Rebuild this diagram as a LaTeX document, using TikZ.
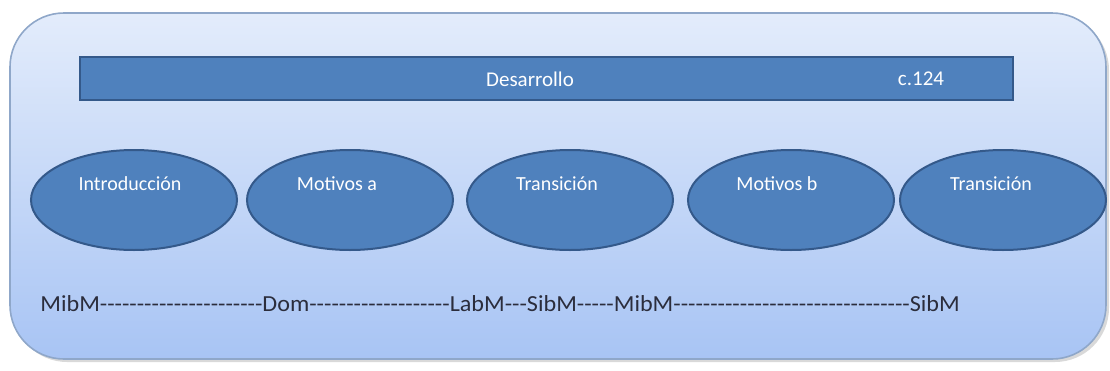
\documentclass[tikz,border=0pt]{standalone}
\usepackage{fontspec}
\setmainfont{Carlito}[Ligatures=TeXOff]
\newfontfamily\keyfont{Carlito}[Ligatures=TeXOff,FakeStretch=1.05]
\definecolor{paneltop}{HTML}{E3ECFB}
\definecolor{panelbot}{HTML}{A8C4F4}
\definecolor{panelline}{HTML}{8FA7C9}
\definecolor{boxfill}{HTML}{4F81BD}
\definecolor{boxline}{HTML}{34598A}
\definecolor{darktext}{HTML}{2B2D3C}
\tikzset{
  barbox/.style={draw=boxline,fill=boxfill,line width=1pt,inner sep=0pt,
    minimum width=466.5pt,minimum height=21.5pt},
  oval/.style={ellipse,draw=boxline,fill=boxfill,line width=1pt,inner sep=0pt,
    minimum width=103pt,minimum height=50pt},
  ovaltext/.style={text=white,font=\fontsize{10}{12}\selectfont},
  bartext/.style={text=white,font=\fontsize{10.5}{12}\selectfont},
}
\usetikzlibrary{shapes.geometric}
\begin{document}
\begin{tikzpicture}[x=0.5pt,y=-0.5pt]
  % helper grid: comment for final drawing
  % \draw[help lines,step=10] (0,0) grid (1110,370);
  \useasboundingbox (0,0) rectangle (1110,370);
  % panel with shadow
  \fill[black!15,rounded corners=27pt] (13,16) rectangle (1109,362);
  \shade[top color=paneltop,bottom color=panelbot,draw=panelline,line width=0.8pt,
    rounded corners=27pt] (10,13) rectangle (1106,359);
  % top bar
  \node[barbox] (dev) at (546.5,78.5) {};
  \node[bartext] (devlab) at (530,79) {Desarrollo};
  \node[bartext] (bar) at (921,79) {c.124};
  % ovals
  \node[oval] (intro) at (134,200) {};
  \node[oval] (mota) at (350,200) {};
  \node[oval] (trana) at (570,200) {};
  \node[oval] (motb) at (791,200) {};
  \node[oval] (tranb) at (1003,200) {};
  \node[ovaltext] (introlab) at ([shift={(-4,-16)}]intro.center) {Introducción};
  \node[ovaltext] (motalab) at ([shift={(-13,-16)}]mota.center) {Motivos a};
  \node[ovaltext] (tranalab) at ([shift={(-13,-16)}]trana.center) {Transición};
  \node[ovaltext] (motblab) at ([shift={(-14,-16)}]motb.center) {Motivos b};
  \node[ovaltext] (tranblab) at ([shift={(-12,-16)}]tranb.center) {Transición};
  % key line
  \node[anchor=west,inner sep=0pt,text=darktext,font=\keyfont\fontsize{11.5}{13}\selectfont]
    (keys) at (40,304)
    {MibM----------------------Dom-------------------LabM---SibM-----MibM--------------------------------SibM};
\end{tikzpicture}
\end{document}
